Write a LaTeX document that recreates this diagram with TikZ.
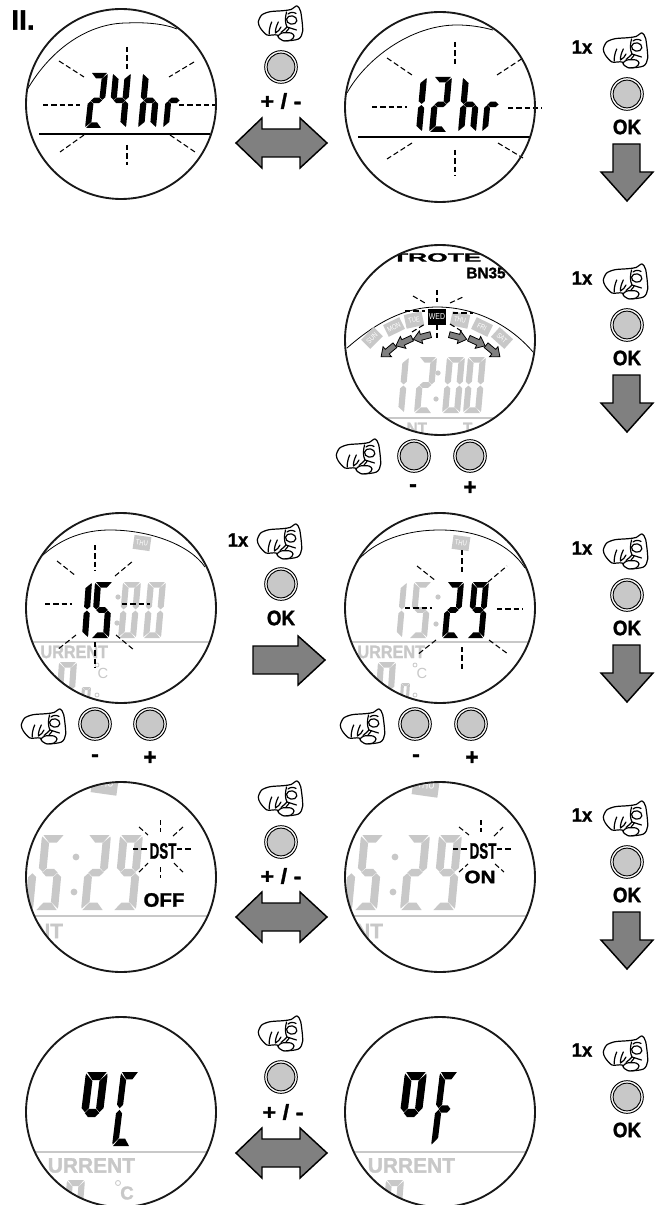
\documentclass[tikz,border=0pt]{standalone}
\usepackage{fontspec}
\usepackage{graphicx}
\setmainfont{Liberation Sans}[BoldFeatures={FakeBold=1.3}]
\definecolor{lg}{HTML}{C8C8C8}
\definecolor{ag}{HTML}{808080}
\newcounter{lblc}
\tikzset{
  x=.75pt,y=-.75pt,
  ring/.style={draw=black!90,line width=1.4pt},
  burst/.style={draw=black,line width=.8pt,dash pattern=on 4pt off 2.2pt},
  bigarrow/.style={draw=black,fill=ag,line width=1.1pt,line join=miter},
  smallarrow/.style={draw=black,fill=ag,line width=.6pt},
  arcline/.style={draw=black,line width=.6pt},
  greyline/.style={draw=lg,line width=1.2pt},
  fistline/.style={draw=black,line width=.9pt,line cap=round,line join=round},
  lab/.style={inner sep=0pt,outer sep=0pt,font=\bfseries},
}
\newcommand\lbl[5][1]{\stepcounter{lblc}\node[lab,text=#5] (t\arabic{lblc}) at (#2) {\fontsize{#3}{#3}\selectfont\scalebox{#1}[1]{#4}};}
\newcommand\lble[5][1]{\stepcounter{lblc}\node[lab,text=#5,anchor=east] (t\arabic{lblc}) at (#2) {\fontsize{#3}{#3}\selectfont\scalebox{#1}[1]{#4}};}
\newcommand\lblw[5][1]{\stepcounter{lblc}\node[lab,text=#5,anchor=west] (t\arabic{lblc}) at (#2) {\fontsize{#3}{#3}\selectfont\scalebox{#1}[1]{#4}};}
% segments
\def\lcda{\fill (.06,0)--(.94,0)--(.68,.10)--(.34,.10)--cycle;}
\def\lcdb{\fill (.98,.02)--(1,.05)--(1,.44)--(.83,.49)--(.66,.44)--(.66,.11)--cycle;}
\def\lcdf{\fill (.02,.02)--(.34,.11)--(.34,.44)--(.17,.49)--(0,.44)--(0,.05)--cycle;}
\def\lcdg{\fill (.17,.50)--(.34,.45)--(.66,.45)--(.83,.50)--(.66,.55)--(.34,.55)--cycle;}
\def\lcdc{\fill (.98,.98)--(1,.95)--(1,.56)--(.83,.51)--(.66,.56)--(.66,.89)--cycle;}
\def\lcde{\fill (.02,.98)--(.34,.89)--(.34,.56)--(.17,.51)--(0,.56)--(0,.95)--cycle;}
\def\lcdd{\fill (.06,1)--(.94,1)--(.68,.90)--(.34,.90)--cycle;}
% x,y,w,h,slant,colour,segments
\newcommand\lcd[7]{\begin{scope}[shift={(#1,#2)},x={({#3*.75pt},0pt)},y={({-#5*.75pt},{-#4*.75pt})},fill=#6]
\foreach \q in {#7}{\csname lcd\q\endcsname}
\end{scope}}
\newcommand\btn[2]{\stepcounter{lblc}
\node[circle,draw=black,line width=.7pt,fill=white,minimum size=24.5pt,inner sep=0pt] (b\arabic{lblc}) at (#1,#2) {};
\node[circle,draw=black,line width=.7pt,fill=lg,minimum size=20.8pt,inner sep=0pt] (c\arabic{lblc}) at (#1,#2) {};}
\newcommand\fist[2]{\begin{scope}[shift={(#1,#2)}]
\draw[fistline,fill=white] plot[smooth cycle,tension=.45] coordinates {(.3,17)(3.7,10)(12,6.7)(25,5.7)(33,4.5)(39,.9)(42.7,6.7)(44.7,26)(40.5,34)(26,35.7)(19,30)(9,30)(2.3,23)};
\draw[fistline] (13.7,17)..controls (12,21) and (11,25)..(11.3,29);
\draw[fistline] (20.3,17)..controls (18.5,21) and (17,25)..(17.5,28)..controls (20,27) and (22,24)..(23,22);
\draw[fistline] (28.5,7)..controls (27,13) and (27,18)..(29,22)..controls (27,24) and (25,26)..(23,27.5);
\draw[fistline] (29,22)--(38.5,25)(31,23.5)--(28,27);
\draw[fistline,rotate around={-10:(33.7,15)}] (33.7,15) ellipse [x radius=5.2,y radius=4.2];
\draw[fistline] (30,9)..controls (32,7) and (36,7)..(38,8.5);
\draw[fistline,fill=white] plot[smooth cycle,tension=.5] coordinates {(20,31.5)(24,28)(33,28)(36,31)(33,35)(25,35.7)};
\end{scope}}
\newcommand\badge[8]{\stepcounter{lblc}\node[fill=#7,text=white,minimum width=#4*.75pt,minimum height=#5*.75pt,inner sep=0pt,outer sep=0pt,rotate=#3,font=\mdseries] (d\arabic{lblc}) at (#1,#2) {\fontsize{#6}{#6}\selectfont\scalebox{.8}[1]{#8}};}
\newcommand\darrow[1]{\draw[bigarrow] (236,#1)--(262,{#1-25})--(262,{#1-14})--(300,{#1-14})--(300,{#1-25})--(327,#1)--(300,{#1+25})--(300,{#1+14})--(262,{#1+14})--(262,{#1+25})--cycle;}
\newcommand\dnarrow[1]{\draw[bigarrow] (613,#1)--(640,#1)--(640,{#1+28})--(653,{#1+28})--(627,{#1+57})--(601,{#1+28})--(613,{#1+28})--cycle;}
\newcommand\sarrow[3]{\begin{scope}[shift={(#1,#2)},rotate=#3]
\draw[smallarrow] (-9,-3)--(1,-3)--(1,-6.5)--(9,0)--(1,6.5)--(1,3)--(-9,3)--cycle;
\end{scope}}
\newcommand\rightcol[1]{\lbl[.95]{582,{#1+15}}{14.6}{1x}{black}
\fist{603}{#1}\btn{627}{#1+62}\lbl[.9]{627,{#1+95}}{15.7}{OK}{black}}
\newcommand\pmlab[1]{\lbl[1.1]{281,#1}{16}{+ / -}{black}}
\begin{document}
\begin{tikzpicture}
\useasboundingbox (0,0) rectangle (656,1205);
\fill[white] (0,0) rectangle (656,1205);
\lbl{23,20}{21}{II.}{black}

% ---------- row 1 left
\begin{scope}
\clip (121,104) circle [radius=95];
\draw[arcline] (27,90)..controls (52,47) and (90,23)..(127,23)..controls (146,22) and (165,24)..(177,29);
\end{scope}
\draw[line width=1.5pt,black] (39,134)--(210,134);
\lcd{91}{73}{17}{55}{6}{black}{a,b,g,e,d}
\lcd{113}{73}{18}{55}{5}{black}{f,b,g,c}
\lcd{143}{73}{18}{55}{5}{black}{f,e,g,c}
\lcd{168}{73}{17}{55}{5}{black}{e,g}
\foreach \a/\b/\c/\d in {127/47/127/70,127/145/127/165,43/105/80/105,179/105/215/105,59/61/84/77,194/62/169/77,84/135/60/152,170/135/195/152}{\draw[burst] (\a,\b)--(\c,\d);}
\draw[ring] (121,104) circle [radius=95];
\fist{258}{5}\btn{281}{67}\pmlab{101}\darrow{143}

% ---------- row 1 right
\begin{scope}
\clip (440,107) circle [radius=95];
\draw[arcline] (347,93)..controls (365,60) and (410,25)..(457,25)..controls (470,25) and (482,27)..(493,30);
\end{scope}
\draw[line width=1.5pt,black] (358,137)--(530,137);
\lcd{409}{77}{18}{55}{5}{black}{b,c}
\lcd{434}{77}{18}{55}{5}{black}{a,b,g,e,d}
\lcd{463}{77}{18}{55}{5}{black}{f,e,g,c}
\lcd{487}{77}{17}{55}{5}{black}{e,g}
\foreach \a/\b/\c/\d in {455/42/455/66,455/150/455/175,372/107/407/107,508/108/542/108,387/58/412/75,497/75/523/58,412/143/387/159,498/143/523/158}{\draw[burst] (\a,\b)--(\c,\d);}
\draw[ring] (440,107) circle [radius=95];
\rightcol{32}\dnarrow{144}

% ---------- row 2
\begin{scope}
\clip (440,340) circle [radius=95];
\lblw[2.2]{392,257.5}{9}{TROTE}{black}
\lbl{486,273}{11.5}{BN35}{black}
\draw[arcline] (347,348)..controls (370,328) and (400,307)..(437,307)..controls (475,307) and (510,325)..(533,352);
\lcd{391}{357}{18}{56}{5}{lg}{b,c}
\lcd{419}{357}{18}{56}{5}{lg}{a,b,g,e,d}
\lcd{447}{357}{18}{56}{5}{lg}{a,b,c,d,e,f}
\lcd{468}{357}{18}{56}{5}{lg}{a,b,c,d,e,f}
\fill[lg] (438,373) circle [radius=2.6] (436,399) circle [radius=2.6];
\draw[greyline] (345,418)--(535,418);
\lble{427,428}{11.5}{NT}{lg}
\lblw{463,428}{11.5}{T}{lg}
\badge{372}{338}{45}{18}{13}{5.5}{lg}{SUN}
\badge{394}{327}{26}{18}{13}{5.5}{lg}{MON}
\badge{414}{320}{12}{18}{14}{5.5}{lg}{TUE}
\badge{437}{317}{0}{18}{15}{6.5}{black}{WED}
\badge{460}{320}{-12}{18}{14}{5.5}{lg}{THU}
\badge{482}{327}{-26}{18}{13}{5.5}{lg}{FRI}
\badge{502}{338}{-42}{18}{13}{5.5}{lg}{SAT}
\end{scope}
\foreach \a/\b/\c/\d in {437/290/437/302,437/325/437/338,413/296/425/303,450/303/463/297,412/332/425/324,450/324/463/332,405/311/425/311,453/313/473/313}{\draw[burst] (\a,\b)--(\c,\d);}
\sarrow{422}{337}{195}\sarrow{404}{342}{205}\sarrow{388}{351}{220}
\sarrow{458}{337}{-15}\sarrow{477}{342}{-25}\sarrow{493}{351}{-40}
\draw[ring] (440,340) circle [radius=95];
\fist{336}{438}\btn{414}{456}\btn{470}{456}
\lbl{413,488}{17}{-}{black}\lbl{470,488}{17}{+}{black}
\rightcol{263}\dnarrow{375}

% ---------- row 3 left
\begin{scope}
\clip (121,608) circle [radius=95];
\draw[arcline] (43,555)..controls (62,538) and (85,530)..(110,530)..controls (150,530) and (190,545)..(205,567);
\badge{142}{543}{-8}{17}{14}{5.5}{lg}{THU}
\lcd{123}{582}{18}{56}{5}{lg}{a,b,c,d,e,f}
\lcd{148}{582}{18}{56}{5}{lg}{a,b,c,d,e,f}
\fill[lg] (118,597) circle [radius=2.6] (117,623) circle [radius=2.6];
\draw[greyline] (26,642)--(216,642);
\lble[.9]{108,652}{13.5}{URRENT}{lg}
\lcd{59}{662}{18}{56}{4}{lg}{a,b,c,d,e,f}
\lcd{82}{687}{9}{30}{2}{lg}{a,b,f}
\node[inner sep=0pt,text=lg,font=\mdseries] (cdega) at (103,673) {\fontsize{11}{11}\selectfont C};
\draw[lg,line width=.6pt] (97,665) circle [radius=2];
\draw[lg,line width=.6pt] (97,695) circle [radius=2];
\end{scope}
\lcd{74}{582}{18}{56}{4}{black}{b,c}
\lcd{95}{582}{18}{56}{4}{black}{a,f,g,c,d}
\foreach \a/\b/\c/\d in {95/545/95/570,95/642/95/667,45/604/72/604,122/604/150/604,57/561/76/576,115/576/133/561,76/635/57/650,116/635/134/650}{\draw[burst] (\a,\b)--(\c,\d);}
\draw[ring] (121,608) circle [radius=95];
\fist{21}{708}\btn{95}{724}\btn{150}{724}
\lbl{95,758}{17}{-}{black}\lbl{150,758}{17}{+}{black}
\lbl[.95]{238,540}{14.6}{1x}{black}
\fist{257}{523}\btn{281}{584}\lbl[.9]{281,618}{15.7}{OK}{black}
\draw[bigarrow] (253,646)--(298,646)--(298,636)--(325,660)--(298,685)--(298,674)--(253,674)--cycle;

% ---------- row 3 right
\begin{scope}
\clip (440,608) circle [radius=95];
\draw[arcline] (360,558)..controls (380,538) and (410,530)..(440,530)..controls (480,530) and (510,545)..(525,568);
\badge{461}{543}{-8}{17}{14}{5.5}{lg}{THU}
\lcd{390}{582}{17}{56}{5}{lg}{b,c}
\lcd{414}{582}{18}{56}{5}{lg}{a,f,g,c,d}
\fill[lg] (438,597) circle [radius=2.6] (436,624) circle [radius=2.6];
\draw[greyline] (345,642)--(535,642);
\lble[.9]{425,652}{13.5}{URRENT}{lg}
\lcd{378}{662}{18}{56}{4}{lg}{a,b,c,d,e,f}
\lcd{401}{683}{9}{30}{2}{lg}{a,b,f}
\node[inner sep=0pt,text=lg,font=\mdseries] (cdegb) at (422,673) {\fontsize{11}{11}\selectfont C};
\draw[lg,line width=.6pt] (415,665) circle [radius=2];
\draw[lg,line width=.6pt] (415,695) circle [radius=2];
\end{scope}
\lcd{447}{582}{17}{56}{5}{black}{a,b,g,e,d}
\lcd{472}{582}{17}{56}{5}{black}{a,b,f,g,c,d}
\foreach \a/\b/\c/\d in {462/550/462/573,462/647/462/670,405/608/432/608,497/609/523/609,417/566/436/581,488/582/507/566,436/640/417/655,489/640/508/654}{\draw[burst] (\a,\b)--(\c,\d);}
\draw[ring] (440,608) circle [radius=95];
\fist{340}{708}\btn{415}{724}\btn{471}{724}
\lbl{416,758}{17}{-}{black}\lbl{472,758}{17}{+}{black}
\rightcol{533}\dnarrow{645}

% ---------- row 4 left
\begin{scope}
\clip (121,877) circle [radius=95];
\badge{105}{783}{-8}{26}{22}{8}{lg}{THU}
\lcd{17}{835}{23}{75}{7}{lg}{c}
\lcd{42}{835}{23}{75}{7}{lg}{a,f,g,c,d}
\lcd{88}{835}{23}{75}{7}{lg}{a,b,g,e,d}
\lcd{120}{835}{23}{75}{7}{lg}{a,b,f,g,c,d}
\fill[lg] (76,857) circle [radius=3.4] (74,892) circle [radius=3.4];
\draw[greyline] (26,916)--(216,916);
\lble{63,931}{15.7}{NT}{lg}
\end{scope}
\lbl[.6]{163,851}{16.7}{DST}{black}
\lbl[1.05]{164,900}{14.6}{OFF}{black}
\foreach \a/\b/\c/\d in {160.7/820/160.7/832,160.7/867/160.7/878,133/849/147/849,177/849/191/849,139/827/148/835,173/836/183/827,139/872/148/863,174/863/183/872}{\draw[burst] (\a,\b)--(\c,\d);}
\draw[ring] (121,877) circle [radius=95];
\fist{258}{780}\btn{281}{842}\pmlab{876}\darrow{917}

% ---------- row 4 right
\begin{scope}
\clip (440,877) circle [radius=95];
\badge{426}{785}{-8}{26}{22}{8}{lg}{THU}
\lcd{336}{835}{23}{75}{7}{lg}{c}
\lcd{361}{835}{23}{75}{7}{lg}{a,f,g,c,d}
\lcd{407}{835}{23}{75}{7}{lg}{a,b,g,e,d}
\lcd{439}{835}{23}{75}{7}{lg}{a,b,f,g,c,d}
\fill[lg] (395,857) circle [radius=3.4] (393,892) circle [radius=3.4];
\draw[greyline] (345,916)--(535,916);
\lble{383,931}{15.7}{NT}{lg}
\end{scope}
\lbl[.6]{483,851}{16.7}{DST}{black}
\lbl[1.15]{480,877}{13.5}{ON}{black}
\foreach \a/\b/\c/\d in {481/820/481/832,453/849/467/849,497/849/511/849,459/827/469/835,494/836/503/827,459/872/468/864,495/864/504/872}{\draw[burst] (\a,\b)--(\c,\d);}
\draw[ring] (440,877) circle [radius=95];
\rightcol{800}\dnarrow{912}

% ---------- row 5 left
\begin{scope}
\clip (121,1112) circle [radius=95];
\draw[greyline] (26,1152)--(216,1152);
\lble{135,1165.5}{15.7}{URRENT}{lg}
\lcd{67}{1180}{18}{60}{5}{lg}{a,b,f}
\node[inner sep=0pt,text=lg,font=\bfseries] (cdegc) at (127,1193) {\fontsize{14}{14}\selectfont C};
\draw[lg,line width=.6pt] (118,1183) circle [radius=2.5];
\end{scope}
\lcd{86}{1072}{22}{82}{10}{black}{a,b,f,g}
\lcd{121}{1072}{18}{74}{9}{black}{a,f,e,d}
\draw[ring] (121,1112) circle [radius=95];
\fist{258}{1015}\btn{281}{1077}\lbl[1.1]{283,1112}{16}{+ / -}{black}\darrow{1153}

% ---------- row 5 right
\begin{scope}
\clip (440,1112) circle [radius=95];
\draw[greyline] (345,1152)--(535,1152);
\lble{455,1165.5}{15.7}{URRENT}{lg}
\lcd{386}{1180}{18}{60}{5}{lg}{a,b,f}
\end{scope}
\lcd{405}{1072}{22}{82}{10}{black}{a,b,f,g}
\lcd{440}{1072}{18}{74}{9}{black}{a,f,g,e}
\draw[ring] (440,1112) circle [radius=95];
\rightcol{1035}
\end{tikzpicture}
\end{document}
